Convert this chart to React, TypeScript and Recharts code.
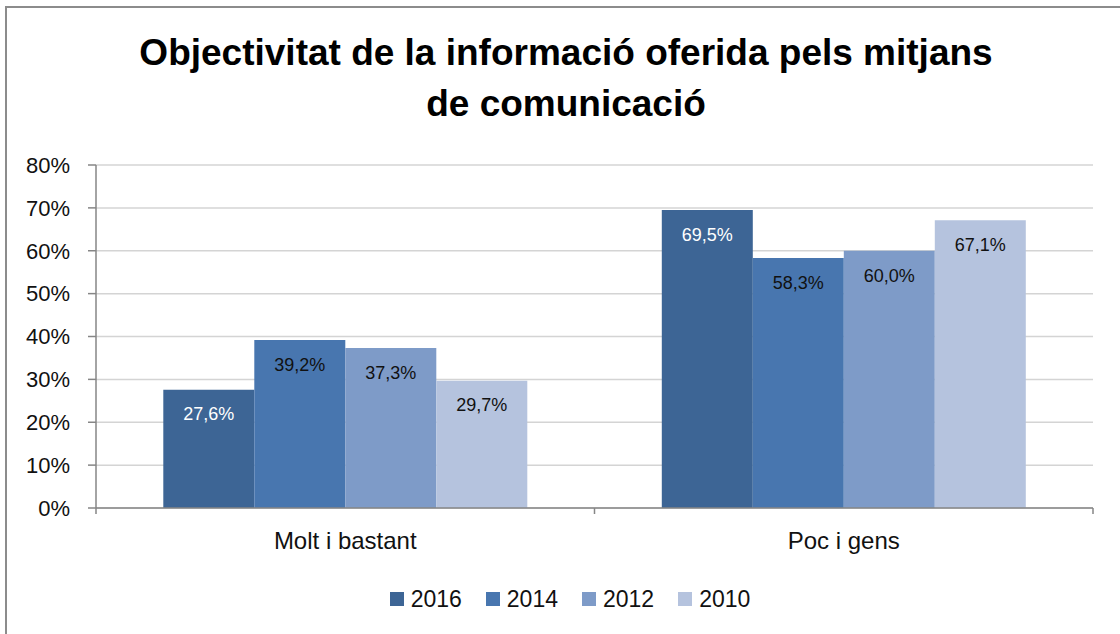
import React from "react";
import { BarChart, Bar, XAxis, YAxis, CartesianGrid, LabelList } from "recharts";

const categories = ["Molt i bastant", "Poc i gens"];
const years = ["2016", "2014", "2012", "2010"];
const values2016 = [27.6, 69.5];
const values2014 = [39.2, 58.3];
const values2012 = [37.3, 60.0];
const values2010 = [29.7, 67.1];
const yTicks = [0, 10, 20, 30, 40, 50, 60, 70, 80];

const COLORS = ["#3D6595", "#4876AF", "#7E9BC8", "#B5C3DE"];
const LABEL_COLORS = ["#ffffff", "#111111", "#111111", "#111111"];
const FONT = "'Liberation Sans', Arial, sans-serif";

const W = 1120;
const H = 634;
const M = { top: 165, right: 27, bottom: 86, left: 16 };
const Y_WIDTH = 80;
const X_HEIGHT = 40;
const STEP = (W - M.left - Y_WIDTH - M.right) / categories.length;

const data = categories.map((name, i) => ({
  name,
  "2016": values2016[i],
  "2014": values2014[i],
  "2012": values2012[i],
  "2010": values2010[i],
}));

const fmt = (v: any) => `${Number(v).toFixed(1).replace(".", ",")}%`;

// Excel-style ticks sit between categories, so draw them at the band edges
function CategoryTick(props: any) {
  const { x, y, payload, index } = props;
  const last = index === categories.length - 1;
  return (
    <g>
      <line x1={x - STEP / 2} x2={x - STEP / 2} y1={y - 8} y2={y - 2} stroke="#868686" strokeWidth={1.5} />
      {last && (
        <line x1={x + STEP / 2} x2={x + STEP / 2} y1={y - 8} y2={y - 2} stroke="#868686" strokeWidth={1.5} />
      )}
      <text x={x} y={y + 33} textAnchor="middle" fontSize={24} fill="#111" fontFamily={FONT}>
        {payload.value}
      </text>
    </g>
  );
}

function YearLegend() {
  return (
    <div
      style={{
        position: "absolute",
        left: 0,
        top: 586,
        width: 1140,
        display: "flex",
        justifyContent: "center",
        fontFamily: FONT,
        fontSize: 23,
        lineHeight: "26px",
        color: "#111",
      }}
    >
      {years.map((y, i) => (
        <div key={y} style={{ display: "flex", alignItems: "center", marginRight: i < years.length - 1 ? 24 : 0 }}>
          <span style={{ width: 14, height: 14, background: COLORS[i], display: "inline-block", marginRight: 7 }} />
          <span>{y}</span>
        </div>
      ))}
    </div>
  );
}

export default function App() {
  return (
    <div style={{ position: "absolute", left: 0, top: 0, width: W, height: H, overflow: "hidden", background: "#fff" }}>
      <div
        style={{
          position: "absolute",
          left: 5,
          top: 6,
          width: W + 20,
          height: H + 20,
          border: "2px solid #8c8c8c",
          boxSizing: "border-box",
        }}
      />
      <div
        style={{
          position: "absolute",
          left: 0,
          top: 27,
          width: 1132,
          textAlign: "center",
          fontFamily: FONT,
          fontWeight: 700,
          fontSize: 37,
          lineHeight: "51px",
          color: "#000",
        }}
      >
        Objectivitat de la informació oferida pels mitjans
        <br />
        de comunicació
      </div>
      <div style={{ position: "absolute", left: 0, top: 0 }}>
        <BarChart width={W} height={H} data={data} margin={M} barCategoryGap="13.5%" barGap={0}>
          <CartesianGrid vertical={false} stroke="#D4D4D4" strokeWidth={1.5} />
          <XAxis
            dataKey="name"
            axisLine={{ stroke: "#868686", strokeWidth: 1.5 }}
            tickLine={false}
            tick={<CategoryTick />}
            interval={0}
            height={X_HEIGHT}
          />
          <YAxis
            domain={[0, 80]}
            ticks={yTicks}
            interval={0}
            width={Y_WIDTH}
            tickFormatter={(v) => `${v}%`}
            axisLine={{ stroke: "#868686", strokeWidth: 1.5 }}
            tickLine={{ stroke: "#868686", strokeWidth: 1.5 }}
            tickSize={8}
            tickMargin={18}
            tick={{ fontSize: 22, fill: "#111", fontFamily: FONT }}
          />
          {years.map((y, i) => (
            <Bar key={y} dataKey={y} fill={COLORS[i]} isAnimationActive={false}>
              <LabelList
                dataKey={y}
                position="insideTop"
                offset={18}
                formatter={fmt}
                fill={LABEL_COLORS[i]}
                fontSize={18}
                fontFamily={FONT}
              />
            </Bar>
          ))}
        </BarChart>
      </div>
      <YearLegend />
    </div>
  );
}
